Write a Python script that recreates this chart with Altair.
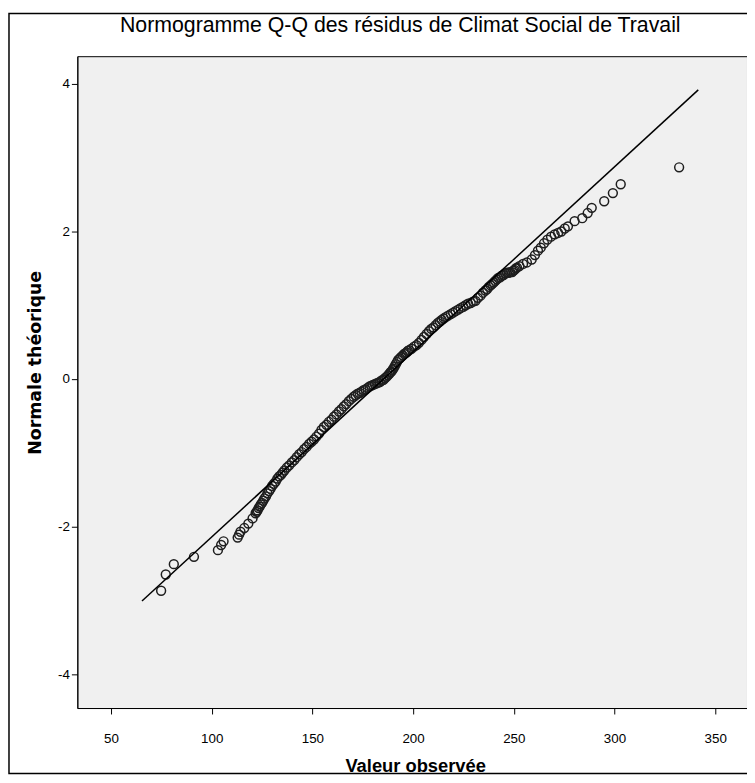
import altair as alt
import pandas as pd

TITLE = "Normogramme Q-Q des résidus de Climat Social de Travail"
X_TITLE = "Valeur observée"
Y_TITLE = "Normale théorique"

x_ticks = [50, 100, 150, 200, 250, 300, 350]
y_ticks = [-4, -2, 0, 2, 4]

obs = [
    74.9, 77.2, 81.2, 91.2, 103.1, 104.7, 105.9, 112.9, 113.6, 114.3, 116.2, 118.2, 120.3,
    121.8, 122.3, 122.8, 123.3, 123.8,
    124.4, 125.0, 125.6, 126.2,
    127.0, 127.7, 128.5, 129.2,
    130.0, 130.9, 131.8, 132.6,
    133.5, 134.4, 135.2, 136.1,
    137.3, 138.5, 139.8, 141.0,
    142.2, 143.5, 144.7, 145.9,
    147.1, 148.4, 149.6, 150.8,
    152.0, 153.3, 154.5, 155.7,
    157.0, 158.2, 159.5, 160.7,
    161.9, 163.2, 164.4, 165.6,
    166.8, 168.1, 169.3, 170.5,
    171.5, 172.5, 173.4, 174.4,
    175.4, 176.4, 177.4, 178.4,
    179.3, 180.1, 181.0, 181.8,
    182.7, 183.5, 184.4, 185.3,
    186.0, 186.8, 187.5, 188.2,
    188.7, 189.2, 189.7, 190.2,
    190.8, 191.4, 192.0, 192.6,
    193.4, 194.1, 194.9, 195.6,
    196.2, 196.8, 197.4, 198.0,
    199.2, 200.5, 201.7, 202.9,
    204.2, 205.4, 206.7, 207.9,
    209.0, 210.1, 211.2, 212.3,
    213.3, 214.2, 215.2, 216.2,
    217.4, 218.7, 219.9, 221.1,
    222.4, 223.6, 224.9, 226.1,
    227.3, 228.6, 229.8, 231.0,
    232.2, 233.5, 234.7, 235.9,
    236.8, 237.6, 238.5, 239.3,
    240.1, 240.8, 241.6, 242.3,
    243.2, 244.0, 244.9, 245.7,
    246.6, 247.5, 248.3, 249.2,
    249.8, 250.4, 251.0, 251.6,
    252.8, 254.6, 256.5, 258.9, 260.5, 262.0, 263.4, 265.0, 266.7, 268.5,
    270.3, 272.0, 273.6, 275.3, 276.9, 280.2, 284.0, 286.7, 288.7, 294.9,
    299.2, 303.1, 332.1,
]
theo = [
    -2.87, -2.65, -2.51, -2.41, -2.32, -2.25, -2.20, -2.15, -2.11, -2.07, -2.02, -1.96, -1.89,
    -1.82, -1.80, -1.78, -1.75, -1.73,
    -1.70, -1.68, -1.65, -1.62,
    -1.59, -1.55, -1.52, -1.49,
    -1.45, -1.42, -1.39, -1.35,
    -1.32, -1.30, -1.27, -1.24,
    -1.20, -1.17, -1.13, -1.10,
    -1.06, -1.02, -0.99, -0.95,
    -0.92, -0.88, -0.85, -0.82,
    -0.78, -0.74, -0.69, -0.65,
    -0.62, -0.58, -0.55, -0.51,
    -0.48, -0.44, -0.41, -0.37,
    -0.34, -0.30, -0.27, -0.24,
    -0.22, -0.20, -0.19, -0.17,
    -0.15, -0.14, -0.12, -0.10,
    -0.09, -0.08, -0.07, -0.06,
    -0.05, -0.04, -0.02, -0.01,
    0.01, 0.03, 0.05, 0.07,
    0.09, 0.10, 0.12, 0.14,
    0.17, 0.20, 0.23, 0.26,
    0.28, 0.30, 0.32, 0.34,
    0.35, 0.36, 0.38, 0.39,
    0.41, 0.44, 0.46, 0.49,
    0.53, 0.57, 0.61, 0.65,
    0.68, 0.70, 0.73, 0.76,
    0.78, 0.80, 0.82, 0.84,
    0.86, 0.88, 0.90, 0.92,
    0.94, 0.96, 0.98, 1.00,
    1.02, 1.03, 1.05, 1.06,
    1.10, 1.13, 1.17, 1.20,
    1.22, 1.25, 1.27, 1.29,
    1.31, 1.33, 1.35, 1.37,
    1.38, 1.40, 1.41, 1.43,
    1.44, 1.44, 1.45, 1.45,
    1.47, 1.48, 1.50, 1.51,
    1.53, 1.56, 1.58, 1.62, 1.68, 1.74, 1.78, 1.84, 1.89, 1.93,
    1.96, 1.98, 2.00, 2.04, 2.07, 2.14, 2.18, 2.25, 2.32, 2.41,
    2.52, 2.64, 2.87,
]

# reference line endpoints
line_obs = [65.4, 341.6]
line_theo = [-3.01, 3.92]

pts = pd.DataFrame({"obs": obs, "theo": theo})
ln = pd.DataFrame({"obs": line_obs, "theo": line_theo})
frame = pd.DataFrame({"k": [0]})

SANS = "Liberation Sans, Arial, sans-serif"
WIDE_BOLD = "DejaVu Sans, Verdana, sans-serif"

xs = alt.Scale(domain=[33.3, 365.8], nice=False, zero=False)
ys = alt.Scale(domain=[-4.46, 4.376], nice=False, zero=False)

x_axis = alt.Axis(
    values=x_ticks, title=X_TITLE, grid=False, tickSize=6, labelPadding=18,
    labelExpr="'' + datum.value",
    titleFont=SANS, titleFontSize=18.5, titleFontWeight="bold",
    titleX=341, titleY=64, titleBaseline="alphabetic", titleAlign="center",
)
y_axis = alt.Axis(
    values=y_ticks, title=Y_TITLE, grid=False, tickSize=6, labelPadding=2,
    labelExpr="'' + datum.value",
    titleFont=WIDE_BOLD, titleFontSize=17.5, titleFontWeight="bold",
    titleX=-42, titleY=309, titleAngle=-90, titleBaseline="middle", titleAlign="center",
)

points = alt.Chart(pts).mark_point(
    shape="circle", filled=False, color="#1e1e1e", strokeWidth=1.5, size=80, opacity=1
).encode(
    x=alt.X("obs:Q", scale=xs, axis=x_axis),
    y=alt.Y("theo:Q", scale=ys, axis=y_axis),
)

line = alt.Chart(ln).mark_line(color="black", strokeWidth=1.5).encode(
    x=alt.X("obs:Q", scale=xs),
    y=alt.Y("theo:Q", scale=ys),
)

border = alt.Chart(frame).mark_rect(
    fillOpacity=0, stroke="black", strokeWidth=1.5
).encode(
    x=alt.value(-69), x2=alt.value(720), y=alt.value(-43), y2=alt.value(724)
)

chart = alt.layer(border, points, line).properties(
    width=676,
    height=658,
    padding={"left": 70, "top": 45, "right": 0, "bottom": 70},
    autosize=alt.AutoSizeParams(type="none"),
    title=alt.TitleParams(
        TITLE, font=SANS, fontSize=21.5, fontWeight="normal", color="black",
        anchor="middle", frame="group", dx=-12, offset=-41, baseline="alphabetic",
    ),
    background="white",
).configure_view(
    fill="#F0F0F0", stroke="black", strokeWidth=1
).configure_axis(
    domainColor="black", tickColor="black", labelColor="black", titleColor="black",
    labelFont=SANS, labelFontSize=13.5, domainWidth=1, tickWidth=1,
)

chart.save("out.html", embed_options={"renderer": "svg", "actions": False})
